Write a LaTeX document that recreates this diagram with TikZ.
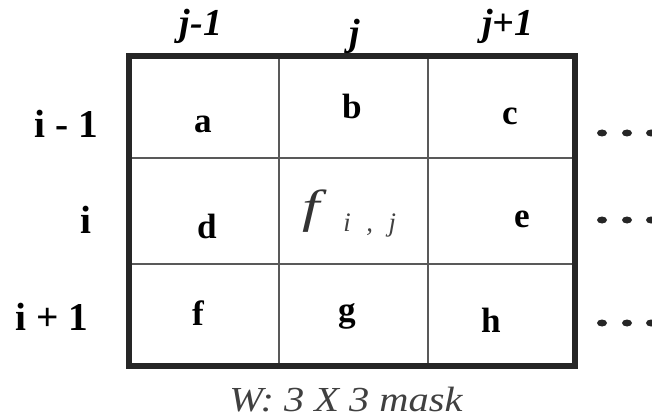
\documentclass[tikz,border=0pt]{standalone}
\usepackage{fontspec}
\setmainfont{Liberation Serif}
\usepackage{tikz}

\begin{document}
\begin{tikzpicture}[x=0.025cm,y=-0.025cm,
  rowlbl/.style={anchor=base,font=\fontsize{28}{30}\selectfont\bfseries},
  collbl/.style={anchor=base,font=\fontsize{27}{30}\selectfont\bfseries\itshape},
  cell/.style={anchor=base,font=\fontsize{25}{28}\selectfont\bfseries}]

\useasboundingbox (0,0) rectangle (652,420);
\clip (0,0) rectangle (652,420);

% inner grid
\foreach \x in {279,428}
  \draw[line width=1.4pt,black!65] (\x,57) -- (\x,366);
\foreach \y in {158,264}
  \draw[line width=1.4pt,black!65] (129,\y) -- (575,\y);

% mask border
\draw[line width=4.3pt,black!85] (129,56) rectangle (575,366);

% column and row indices
\node[collbl] (jm) at (201,36) {j-1};
\node[collbl] (j0) at (355,46) {j};
\node[collbl] (jp) at (508,36) {j+1};
\node[rowlbl] (im) at (66,137) {i - 1};
\node[rowlbl] (i0) at (86,233) {i};
\node[rowlbl] (ip) at (52,330) {i + 1};

% cells
\node[cell] (a) at (203,133) {a};
\node[cell] (b) at (352,118) {b};
\node[cell] (c) at (510,125) {c};
\node[cell] (d) at (207,238) {d};
\node[cell] (e) at (522,227) {e};
\node[cell] (f) at (198,325) {f};
\node[cell] (g) at (347,321) {g};
\node[cell] (h) at (491,332) {h};

\node[anchor=base west,inner sep=0,text=black!80,xscale=1.35,
  font=\fontsize{33}{36}\selectfont\itshape] (fij) at (302,222) {f};
\node[anchor=base west,inner sep=0,text=black!75,
  font=\fontsize{19}{22}\selectfont\itshape] (sub) at (343,231) {i\,\, ,\,\, j};

% continuation dots
\foreach \y in {133,220,323}
  \foreach \x in {602,627,651}
    \fill[black!85] (\x,\y) ellipse (5 and 3.5);

\node[anchor=base,font=\fontsize{25}{28}\selectfont\itshape,text=black!75,xscale=1.15]
  (cap) at (346,411) {W: 3 X 3 mask};

\end{tikzpicture}
\end{document}
